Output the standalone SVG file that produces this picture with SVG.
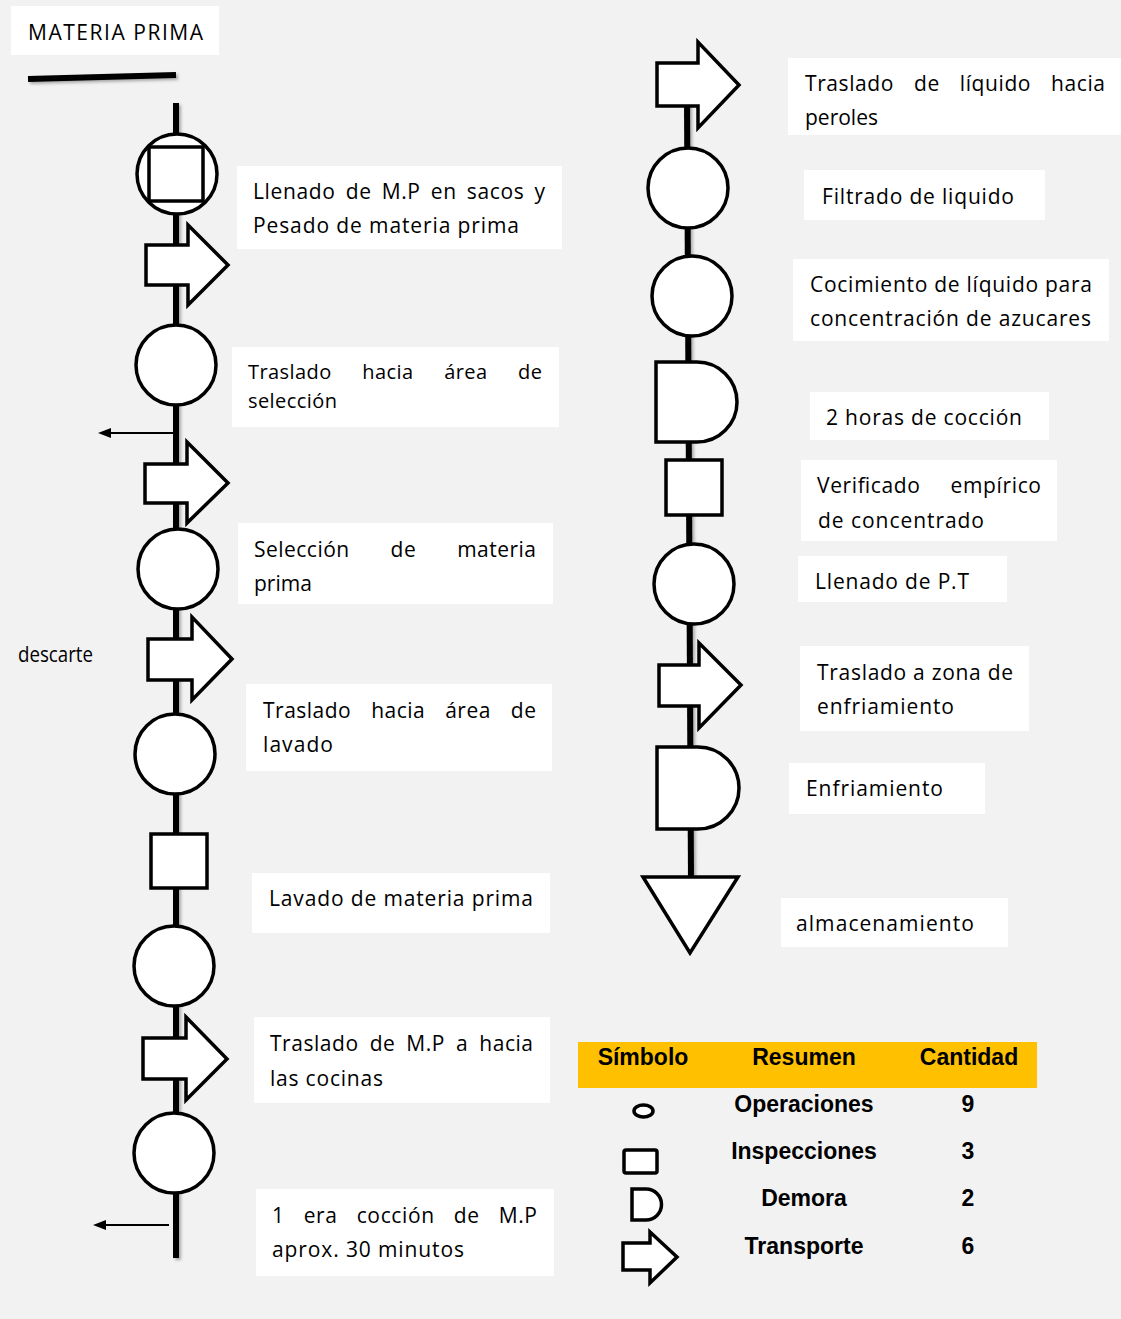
<svg xmlns="http://www.w3.org/2000/svg" width="1121" height="1319" viewBox="0 0 1121 1319">
  <style>
    .bg { fill: #f2f2f2; }
    .box { fill: #ffffff; }
    .shape { fill: #ffffff; stroke: #000000; stroke-width: 3.5; stroke-linejoin: miter; }
    .spine { stroke: #000000; stroke-width: 6; fill: none; }
    .thin { stroke: #000000; stroke-width: 2; fill: none; }
    .head { fill: #000000; }
    .t { font-family: "Open Sans", "Noto Sans", sans-serif; font-size: 21px; fill: #000000; }
    .ts { font-family: "Open Sans", "Noto Sans", sans-serif; font-size: 20px; fill: #000000; }
    .lg { font-family: "Liberation Sans", Arial, sans-serif; font-size: 23px; font-weight: bold; fill: #000000; }
  </style>
  <defs>
    <filter id="shadow" filterUnits="userSpaceOnUse" x="0" y="0" width="1121" height="1319">
      <feDropShadow dx="2" dy="2" stdDeviation="1.5" flood-color="#000000" flood-opacity="0.3"/>
    </filter>
    <clipPath id="clipPeroles">
      <rect x="788" y="58" width="333" height="77"/>
    </clipPath>
  </defs>

  <rect class="bg" x="0" y="0" width="1121" height="1319"/>

  <!-- heading -->
  <g id="titulo">
    <rect class="box" x="11" y="6" width="208" height="49"/>
    <text class="t" x="28" y="40" font-size="20" textLength="175" lengthAdjust="spacing">MATERIA PRIMA</text>
  </g>

  <!-- connectors: process spines, start bar and discard outlets -->
  <g id="connectors">
    <line class="spine" x1="28" y1="79" x2="176" y2="75" filter="url(#shadow)"/>
    <line class="spine" x1="176" y1="103" x2="176" y2="1258" filter="url(#shadow)"/>
    <line class="spine" x1="687" y1="100" x2="691" y2="880" filter="url(#shadow)"/>
    <line class="thin" x1="173" y1="433" x2="108" y2="433"/>
    <polygon class="head" points="98,433 111,428 111,438"/>
    <line class="thin" x1="169" y1="1225" x2="103" y2="1225"/>
    <polygon class="head" points="93,1225 106,1220 106,1230"/>
  </g>

  <!-- left column symbols -->
  <g id="n-llenado-pesado">
    <circle class="shape" cx="177" cy="174" r="40"/>
    <rect class="shape" x="149" y="147" width="54" height="54"/>
  </g>
  <g id="n-traslado-1">
    <polygon class="shape" points="146,245 188,245 188,225 228,265 188,305 188,285 146,285"/>
  </g>
  <g id="n-op-1"><circle class="shape" cx="176" cy="365" r="40"/></g>
  <g id="n-traslado-2">
    <polygon class="shape" points="145,464 187,464 187,442 228,483 187,523 187,503 145,503"/>
  </g>
  <g id="n-seleccion"><circle class="shape" cx="178" cy="569" r="40"/></g>
  <g id="n-traslado-3">
    <polygon class="shape" points="148,639 192,639 192,617 232,659 192,700 192,680 148,680"/>
  </g>
  <g id="n-op-2"><circle class="shape" cx="175" cy="754" r="40"/></g>
  <g id="n-inspeccion-1"><rect class="shape" x="151" y="834" width="56" height="54"/></g>
  <g id="n-lavado"><circle class="shape" cx="174" cy="966" r="40"/></g>
  <g id="n-traslado-4">
    <polygon class="shape" points="143,1038 186,1038 186,1017 227,1059 186,1100 186,1079 143,1079"/>
  </g>
  <g id="n-coccion-1"><circle class="shape" cx="174" cy="1153" r="40"/></g>

  <!-- right column symbols -->
  <g id="n-traslado-peroles">
    <polygon class="shape" points="657,63 698,63 698,42 739,85 698,128 698,106 657,106"/>
  </g>
  <g id="n-filtrado"><circle class="shape" cx="688" cy="188" r="40"/></g>
  <g id="n-cocimiento"><circle class="shape" cx="692" cy="296" r="40"/></g>
  <g id="n-demora-1"><path class="shape" d="M656,362 H697 A40,40 0 0 1 697,442 H656 Z"/></g>
  <g id="n-inspeccion-2"><rect class="shape" x="666" y="460" width="56" height="55"/></g>
  <g id="n-llenado-pt"><circle class="shape" cx="694" cy="584" r="40"/></g>
  <g id="n-traslado-enfriamiento">
    <polygon class="shape" points="659,665 699,665 699,643 741,685 699,728 699,706 659,706"/>
  </g>
  <g id="n-enfriamiento"><path class="shape" d="M657,747 H698 A41,41 0 0 1 698,829 H657 Z"/></g>
  <g id="n-almacenamiento"><polygon class="shape" points="643,877 738,877 690,953"/></g>

  <!-- left column labels (first lines of justified paragraphs use word spacing) -->
  <g id="l-llenado-pesado">
    <rect class="box" x="237" y="166" width="325" height="83"/>
    <text class="t" x="253" y="199" word-spacing="4" textLength="292" lengthAdjust="spacing">Llenado de M.P en sacos y</text>
    <text class="t" x="253" y="233" textLength="266" lengthAdjust="spacing">Pesado de materia prima</text>
  </g>
  <g id="l-traslado-seleccion">
    <rect class="box" x="232" y="347" width="327" height="80"/>
    <text class="ts" x="248" y="379" word-spacing="25" textLength="294" lengthAdjust="spacing">Traslado hacia área de</text>
    <text class="ts" x="248" y="408" textLength="89" lengthAdjust="spacing">selección</text>
  </g>
  <g id="l-seleccion">
    <rect class="box" x="238" y="523" width="315" height="81"/>
    <text class="t" x="254" y="557" word-spacing="35" textLength="282" lengthAdjust="spacing">Selección de materia</text>
    <text class="t" x="254" y="591">prima</text>
  </g>
  <g id="l-traslado-lavado">
    <rect class="box" x="246" y="684" width="306" height="87"/>
    <text class="t" x="263" y="718" word-spacing="14" textLength="273" lengthAdjust="spacing">Traslado hacia área de</text>
    <text class="t" x="263" y="752" textLength="70" lengthAdjust="spacing">lavado</text>
  </g>
  <g id="l-lavado">
    <rect class="box" x="252" y="873" width="298" height="60"/>
    <text class="t" x="269" y="906" textLength="264" lengthAdjust="spacing">Lavado de materia prima</text>
  </g>
  <g id="l-traslado-cocinas">
    <rect class="box" x="254" y="1017" width="296" height="86"/>
    <text class="t" x="270" y="1051" word-spacing="5" textLength="263" lengthAdjust="spacing">Traslado de M.P a hacia</text>
    <text class="t" x="270" y="1086" textLength="113" lengthAdjust="spacing">las cocinas</text>
  </g>
  <g id="l-coccion-1">
    <rect class="box" x="256" y="1189" width="298" height="87"/>
    <text class="t" x="272" y="1223" word-spacing="13" textLength="265" lengthAdjust="spacing">1 era cocción de M.P</text>
    <text class="t" x="272" y="1257" textLength="192" lengthAdjust="spacing">aprox. 30 minutos</text>
  </g>
  <text id="l-descarte" class="t" x="18" y="662" font-size="18" textLength="75" lengthAdjust="spacingAndGlyphs">descarte</text>

  <!-- right column labels -->
  <g id="l-traslado-peroles">
    <rect class="box" x="788" y="58" width="333" height="77"/>
    <text class="t" x="805" y="91" word-spacing="14" textLength="300" lengthAdjust="spacing">Traslado de líquido hacia</text>
    <text class="t" x="805" y="125" clip-path="url(#clipPeroles)">peroles</text>
  </g>
  <g id="l-filtrado">
    <rect class="box" x="804" y="170" width="241" height="50"/>
    <text class="t" x="822" y="204" textLength="192" lengthAdjust="spacing">Filtrado de liquido</text>
  </g>
  <g id="l-cocimiento">
    <rect class="box" x="793" y="259" width="316" height="82"/>
    <text class="t" x="810" y="292" textLength="282" lengthAdjust="spacing">Cocimiento de líquido para</text>
    <text class="t" x="810" y="326" textLength="281" lengthAdjust="spacing">concentración de azucares</text>
  </g>
  <g id="l-demora-1">
    <rect class="box" x="810" y="392" width="239" height="48"/>
    <text class="t" x="826" y="425" textLength="196" lengthAdjust="spacing">2 horas de cocción</text>
  </g>
  <g id="l-verificado">
    <rect class="box" x="801" y="460" width="256" height="81"/>
    <text class="t" x="817" y="493" word-spacing="24" textLength="224" lengthAdjust="spacing">Verificado empírico</text>
    <text class="t" x="818" y="528" textLength="166" lengthAdjust="spacing">de concentrado</text>
  </g>
  <g id="l-llenado-pt">
    <rect class="box" x="798" y="556" width="209" height="46"/>
    <text class="t" x="815" y="589" textLength="154" lengthAdjust="spacing">Llenado de P.T</text>
  </g>
  <g id="l-traslado-enfriamiento">
    <rect class="box" x="800" y="646" width="229" height="85"/>
    <text class="t" x="817" y="680" textLength="196" lengthAdjust="spacing">Traslado a zona de</text>
    <text class="t" x="817" y="714" textLength="137" lengthAdjust="spacing">enfriamiento</text>
  </g>
  <g id="l-enfriamiento">
    <rect class="box" x="789" y="763" width="196" height="51"/>
    <text class="t" x="806" y="796" textLength="137" lengthAdjust="spacing">Enfriamiento</text>
  </g>
  <g id="l-almacenamiento">
    <rect class="box" x="781" y="898" width="227" height="49"/>
    <text class="t" x="796" y="931" textLength="178" lengthAdjust="spacing">almacenamiento</text>
  </g>

  <!-- summary table -->
  <g id="resumen">
    <rect x="578" y="1042" width="459" height="46" fill="#ffc000"/>
    <text class="lg" x="643" y="1065" text-anchor="middle">Símbolo</text>
    <text class="lg" x="804" y="1065" text-anchor="middle">Resumen</text>
    <text class="lg" x="969" y="1065" text-anchor="middle">Cantidad</text>

    <ellipse class="shape" cx="643.5" cy="1111" rx="9.5" ry="6" stroke-width="3"/>
    <rect class="shape" x="624" y="1150" width="33" height="23" rx="2" stroke-width="3"/>
    <path class="shape" d="M632,1189 H646 A15.5,15.5 0 0 1 646,1220 H632 Z" stroke-width="3"/>
    <polygon class="shape" points="623,1243 650,1243 650,1232 677,1257 650,1283 650,1270 623,1270" stroke-width="3"/>

    <text class="lg" x="804" y="1112" text-anchor="middle">Operaciones</text>
    <text class="lg" x="804" y="1159" text-anchor="middle">Inspecciones</text>
    <text class="lg" x="804" y="1206" text-anchor="middle">Demora</text>
    <text class="lg" x="804" y="1254" text-anchor="middle">Transporte</text>
    <text class="lg" x="968" y="1112" text-anchor="middle">9</text>
    <text class="lg" x="968" y="1159" text-anchor="middle">3</text>
    <text class="lg" x="968" y="1206" text-anchor="middle">2</text>
    <text class="lg" x="968" y="1254" text-anchor="middle">6</text>
  </g>
</svg>
